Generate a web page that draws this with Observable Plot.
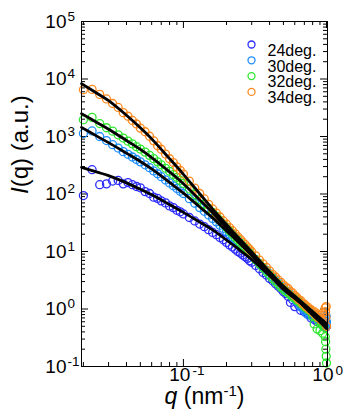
<!DOCTYPE html>
<html>
<head>
<meta charset="utf-8">
<script src="https://cdn.jsdelivr.net/npm/d3@7"></script>
<script src="https://cdn.jsdelivr.net/npm/@observablehq/plot@0.6"></script>
<style>
html,body{margin:0;padding:0;background:#fff;}
#chart svg{display:block;}
</style>
</head>
<body>
<div id="chart"></div>
<script>
// ---- data ----
const q = [0.020,0.023,0.026,0.029,0.032,0.035,0.038,0.041,0.044,0.047,0.050,0.054,0.058,0.062,0.066,0.070,0.075,0.080,0.085,0.090,0.095,0.100,
  0.11,0.12,0.13,0.14,0.15,0.16,0.17,0.18,0.19,0.20,0.21,0.22,0.23,0.24,0.25,0.26,0.27,0.28,0.29,0.30,
  0.32,0.34,0.36,0.38,0.40,0.42,0.44,0.46,0.48,0.50,0.52,0.54,0.56,0.58,0.60,0.62,0.64,0.66,0.68,0.70,
  0.72,0.74,0.76,0.78,0.80,0.82,0.84,0.86,0.88,0.90,0.92,0.94,0.96,0.98,0.985,0.99,0.995,1.00];

const I24 = [94,265,145,150,168,172,150,158,145,135,128,110,102,88,84,76,70,62,58,52,49,45,
  39,34,30,27,24,21.5,19.6,17.5,16,14.4,13,12,11,10,9.4,8.7,8.1,7.6,6.9,6.5,
  5.7,5.0,4.3,3.9,3.4,3.1,2.75,2.5,2.25,2.0,1.85,1.65,1.3,1.45,1.1,1.3,1.15,0.95,1.05,0.9,
  0.95,0.8,0.82,0.7,0.78,0.66,0.72,0.6,0.68,0.58,0.62,0.52,0.6,0.5,0.56,0.48,0.58,0.5];

const I30 = [1130,1250,1000,850,720,630,545,490,440,398,362,322,287,252,225,200,176,156,139,125,112,102,
  83,69,58,50,43,37.5,32.8,28.6,25.2,22.3,20,17.8,16,14.6,13.2,12,11,10.1,9.3,8.5,
  7.2,6.2,5.3,4.7,4.1,3.6,3.2,2.9,2.6,2.35,2.1,1.95,1.8,1.6,1.5,1.35,1.3,1.1,1.05,0.95,
  0.85,0.9,0.78,0.85,0.75,0.8,0.7,0.74,0.65,0.7,0.62,0.66,0.58,0.7,0.62,0.55,0.75,0.6];

const I32 = [1950,2150,1680,1420,1240,1070,940,830,745,665,605,535,470,412,362,322,280,248,218,195,172,153,
  122,98,80,67,56,48,41,35,30,26.2,22.8,20.2,17.8,15.9,14.2,12.7,11.5,10.5,9.5,8.6,
  7.2,6.1,5.2,4.5,3.9,3.4,3.0,2.7,2.4,2.2,2.0,1.9,1.75,1.62,1.55,1.42,1.35,1.25,1.2,1.1,
  1.05,0.98,0.95,0.88,0.75,0.55,0.72,0.45,0.62,0.42,0.55,0.38,0.48,0.33,0.27,0.20,0.15,0.115];

const I34 = [6500,6600,5400,4500,3750,3200,2600,2250,1900,1650,1400,1210,1010,840,690,600,495,410,352,296,258,222,
  168,127,102,82,66,55,46.5,39.8,34,29.8,26,23,20.3,18,16.2,14.5,13.2,11.9,10.9,9.9,
  8.4,7.1,6.1,5.3,4.6,4.0,3.6,3.2,2.9,2.6,2.4,2.25,2.0,1.9,1.7,1.6,1.45,1.40,1.25,1.22,
  1.10,1.08,0.98,0.97,0.88,0.90,0.78,0.82,0.70,0.78,0.64,0.85,0.60,1.05,0.9,0.72,1.1,0.5];

// fitted curves (black lines)
const qFit   = [0.0194,0.025,0.03,0.04,0.05,0.06,0.08,0.1,0.13,0.16,0.2,0.25,0.3,0.4,0.5,0.6,0.8,1.0];
const fit24  = [290,240,209,156,121,97,65.5,47.9,32.4,23.8,15.8,10.4,7.26,3.81,2.32,1.57,0.85,0.52];
const fit30  = [1440,1005,782,513,368,273,159,103.5,59.4,38.5,22.8,13.5,8.7,4.26,2.48,1.68,0.90,0.55];
const fit32  = [2500,1738,1340,853,596,431,243,151,79,47.3,25.8,14.0,8.55,3.89,2.19,1.53,0.87,0.56];
const fit34  = [8300,5600,4200,2340,1416,910,412,220,101,54.6,29.5,16.0,9.8,4.46,2.45,1.58,0.79,0.46];

const seriesNames  = ["24deg.","30deg.","32deg.","34deg."];
const seriesColors = ["#2b2bff","#1e8fff","#2ee82e","#ff8a1f"];

const yMajor = [0.1,1,10,100,1000,10000,100000];
const yExp   = ["-1","0","1","2","3","4","5"];
const xMajor = [0.1,1];
const xExp   = ["-1","0"];
const yTitle = "I(q) (a.u.)";
const xTitle = "q (nm-1)";

// ---- build tables ----
const values = [I24,I30,I32,I34];
const fitsV  = [fit24,fit30,fit32,fit34];
const points = [];
values.forEach((arr,s) => arr.forEach((v,i) => points.push({q:q[i], I:v, s:seriesNames[s]})));
const fits = [];
fitsV.forEach((arr,s) => arr.forEach((v,i) => fits.push({q:qFit[i], I:v, s:seriesNames[s]})));

const W = 348, H = 412, mL = 81, mR = 21, mT = 21, mB = 46;
const plotW = W - mL - mR, plotH = H - mT - mB;
const xDomain = [0.0194, 1.016];

const yMinor = [];
for (let e = -1; e < 5; e++) for (let k = 2; k < 10; k++) yMinor.push(k * Math.pow(10, e));
const xMinor = [];
for (let e = -2; e < 0; e++) for (let k = 2; k < 10; k++) {
  const v = k * Math.pow(10, e);
  if (v >= xDomain[0] && v <= xDomain[1]) xMinor.push(v);
}

const majorLen = 7, minorLen = 4;
const marks = [];
// ticks inward on all four sides
[[yMajor, majorLen],[yMinor, minorLen]].forEach(([vals,len]) => {
  marks.push(Plot.tickY(vals, {y: d => d, insetRight: plotW - len, stroke: "#000", strokeWidth: 1}));
  marks.push(Plot.tickY(vals, {y: d => d, insetLeft: plotW - len, stroke: "#000", strokeWidth: 1}));
});
[[xMajor, majorLen],[xMinor, minorLen]].forEach(([vals,len]) => {
  marks.push(Plot.tickX(vals, {x: d => d, insetTop: plotH - len, stroke: "#000", strokeWidth: 1}));
  marks.push(Plot.tickX(vals, {x: d => d, insetBottom: plotH - len, stroke: "#000", strokeWidth: 1}));
});

// data circles
marks.push(Plot.dot(points, {x: "q", y: "I", stroke: "s", r: 4, strokeWidth: 1.3, fill: "none"}));
// fit lines
marks.push(Plot.line(fits, {x: "q", y: "I", z: "s", stroke: "#000", strokeWidth: 2.8, curve: "catmull-rom"}));
// frame
marks.push(Plot.frame({stroke: "#000", strokeWidth: 1}));

// y tick labels
const yLab = yMajor.map((v,i) => ({v, e: yExp[i]}));
marks.push(Plot.text(yLab, {y: "v", text: () => "10", frameAnchor: "left", textAnchor: "end", dx: -15, fontSize: 19, fill: "#000"}));
marks.push(Plot.text(yLab, {y: "v", text: "e", frameAnchor: "left", textAnchor: "start", dx: -14, dy: -5, fontSize: 13.5, fill: "#000"}));
// x tick labels
const xLab = xMajor.map((v,i) => ({v, e: xExp[i]}));
marks.push(Plot.text(xLab, {x: "v", text: () => "10", frameAnchor: "bottom", textAnchor: "end", dx: 7, dy: 14, fontSize: 19, fill: "#000"}));
marks.push(Plot.text(xLab, {x: "v", text: "e", frameAnchor: "bottom", textAnchor: "start", dx: 9, dy: 8, fontSize: 13.5, fill: "#000"}));

// axis titles
marks.push(Plot.text([yTitle], {text: d => d, frameAnchor: "left", rotate: -90, dx: -61, fontSize: 24, fill: "#000"}));
marks.push(Plot.text([xTitle], {text: d => d, frameAnchor: "bottom", dy: 37, fontSize: 23, fill: "#000"}));

// legend
seriesNames.forEach((name, i) => {
  marks.push(Plot.dot([name], {frameAnchor: "top-left", dx: 170, dy: 23 + i * 15.8, r: 3.5, stroke: seriesColors[i], strokeWidth: 1.3, fill: "none"}));
  marks.push(Plot.text([name], {text: d => d, frameAnchor: "top-left", dx: 186, dy: 23 + i * 15.8, textAnchor: "start", fontSize: 16, fill: "#000"}));
});

const svg = Plot.plot({
  width: W, height: H,
  marginLeft: mL, marginRight: mR, marginTop: mT, marginBottom: mB,
  style: {fontFamily: "'Liberation Sans', Arial, sans-serif", background: "#fff", overflow: "visible"},
  x: {type: "log", domain: xDomain, axis: null},
  y: {type: "log", domain: [0.1, 100000], axis: null},
  color: {domain: seriesNames, range: seriesColors},
  marks
});

svg.querySelectorAll("text").forEach(t => {
  if (t.textContent === yTitle) t.innerHTML = '<tspan font-style="italic">I</tspan>(q) (a.u.)';
  else if (t.textContent === xTitle) t.innerHTML = '<tspan font-style="italic">q</tspan> (nm<tspan dy="-8" font-size="15">-1</tspan><tspan dy="8">)</tspan>';
});

document.getElementById("chart").appendChild(svg);
</script>
</body>
</html>
